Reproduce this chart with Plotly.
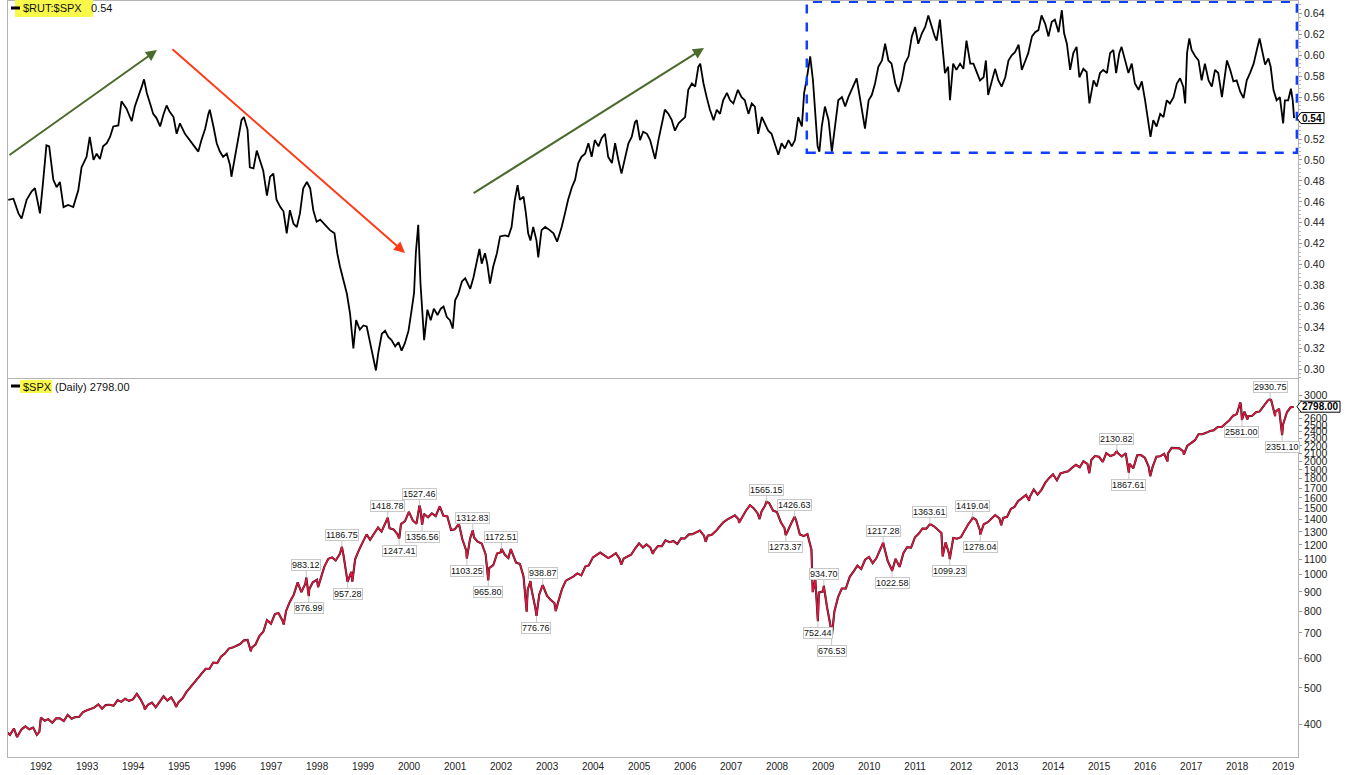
import math
import pandas as pd
import plotly.graph_objects as go

# ---------------- DATA ----------------
# $RUT:$SPX ratio (decimal year, ratio)
rut_spx_year = [
    1991.29, 1991.40, 1991.51, 1991.58, 1991.69, 1991.80, 1991.87, 1991.98,
    1992.05, 1992.12, 1992.18, 1992.27, 1992.34, 1992.41, 1992.49, 1992.59, 1992.70, 1992.81, 1992.88, 1992.99,
    1993.06, 1993.14, 1993.21, 1993.28, 1993.35, 1993.43, 1993.50, 1993.57, 1993.68, 1993.75, 1993.86, 1993.97,
    1994.04, 1994.12, 1994.19, 1994.24, 1994.30, 1994.37, 1994.44, 1994.51, 1994.59, 1994.66, 1994.73, 1994.80, 1994.88, 1994.95,
    1995.02, 1995.13, 1995.24, 1995.35, 1995.42, 1995.49, 1995.57, 1995.64, 1995.67, 1995.75, 1995.82, 1995.89, 1995.96,
    1996.04, 1996.11, 1996.14, 1996.22, 1996.29, 1996.36, 1996.41, 1996.49, 1996.54, 1996.62, 1996.69, 1996.76, 1996.83, 1996.91, 1996.98,
    1997.05, 1997.12, 1997.20, 1997.27, 1997.34, 1997.41, 1997.49, 1997.56, 1997.63, 1997.70, 1997.78, 1997.85, 1997.92, 1997.99,
    1998.07, 1998.17, 1998.28, 1998.38, 1998.44, 1998.50, 1998.57, 1998.65, 1998.72, 1998.79, 1998.85, 1998.93,
    1999.01, 1999.08, 1999.17, 1999.22, 1999.28, 1999.33, 1999.41, 1999.48, 1999.55, 1999.62, 1999.70, 1999.77, 1999.84, 1999.91, 1999.99,
    2000.06, 2000.11, 2000.15, 2000.20, 2000.25, 2000.30, 2000.33, 2000.40, 2000.47, 2000.54, 2000.62, 2000.69, 2000.75, 2000.82, 2000.89, 2000.95,
    2001.00, 2001.07, 2001.15, 2001.22, 2001.33, 2001.40, 2001.47, 2001.53, 2001.58, 2001.65, 2001.70, 2001.76, 2001.83, 2001.91, 2001.98,
    2002.09, 2002.16, 2002.23, 2002.30, 2002.36, 2002.41, 2002.49, 2002.54, 2002.59, 2002.64, 2002.70, 2002.77, 2002.81, 2002.88, 2002.96,
    2003.06, 2003.14, 2003.22, 2003.32, 2003.39, 2003.46, 2003.54, 2003.61, 2003.68, 2003.75, 2003.83, 2003.90, 2003.97,
    2004.04, 2004.12, 2004.19, 2004.26, 2004.33, 2004.41, 2004.48, 2004.55, 2004.62, 2004.70, 2004.77, 2004.84, 2004.91, 2004.95,
    2005.02, 2005.09, 2005.17, 2005.24, 2005.31, 2005.35, 2005.42, 2005.49, 2005.56, 2005.64, 2005.71, 2005.78, 2005.86, 2005.93,
    2006.00, 2006.07, 2006.15, 2006.22, 2006.29, 2006.33, 2006.40, 2006.47, 2006.54, 2006.62, 2006.69, 2006.76, 2006.83, 2006.91, 2006.98,
    2007.05, 2007.15, 2007.23, 2007.30, 2007.38, 2007.45, 2007.52, 2007.59, 2007.67, 2007.74, 2007.81, 2007.88, 2007.96,
    2008.03, 2008.10, 2008.17, 2008.25, 2008.32, 2008.39, 2008.46, 2008.54, 2008.59, 2008.64, 2008.72, 2008.78, 2008.83, 2008.88, 2008.92, 2008.97,
    2009.04, 2009.12, 2009.19, 2009.26, 2009.33, 2009.41, 2009.48, 2009.55, 2009.62, 2009.73, 2009.80, 2009.88, 2009.91, 2009.99,
    2010.06, 2010.13, 2010.20, 2010.28, 2010.35, 2010.42, 2010.49, 2010.57, 2010.64, 2010.71, 2010.78, 2010.86, 2010.93,
    2011.00, 2011.07, 2011.15, 2011.22, 2011.29, 2011.36, 2011.43, 2011.47, 2011.54, 2011.61, 2011.65, 2011.72, 2011.76, 2011.83, 2011.90, 2011.98,
    2012.05, 2012.12, 2012.20, 2012.27, 2012.34, 2012.41, 2012.49, 2012.54, 2012.59, 2012.67, 2012.74, 2012.81, 2012.88, 2012.96,
    2013.03, 2013.10, 2013.17, 2013.25, 2013.32, 2013.39, 2013.46, 2013.54, 2013.61, 2013.68, 2013.75, 2013.83, 2013.90, 2013.97,
    2014.04, 2014.12, 2014.19, 2014.24, 2014.30, 2014.37, 2014.44, 2014.51, 2014.57, 2014.66, 2014.73, 2014.79, 2014.88, 2014.95,
    2015.02, 2015.09, 2015.17, 2015.24, 2015.31, 2015.37, 2015.44, 2015.49, 2015.57, 2015.64, 2015.71, 2015.78, 2015.86, 2015.93,
    2016.00, 2016.07, 2016.12, 2016.18, 2016.25, 2016.33, 2016.40, 2016.47, 2016.54, 2016.62, 2016.69, 2016.76, 2016.83, 2016.87, 2016.91, 2016.96,
    2017.01, 2017.09, 2017.16, 2017.23, 2017.30, 2017.38, 2017.45, 2017.52, 2017.59, 2017.67, 2017.78, 2017.85, 2017.92, 2017.99,
    2018.07, 2018.14, 2018.21, 2018.28, 2018.36, 2018.43, 2018.49, 2018.54, 2018.61, 2018.68, 2018.73, 2018.79, 2018.86, 2018.93,
    2019.00, 2019.04, 2019.11, 2019.17, 2019.21, 2019.24,
]
rut_spx = [
    0.462, 0.463, 0.449, 0.444, 0.462, 0.470, 0.473, 0.449,
    0.481, 0.514, 0.513, 0.481, 0.474, 0.479, 0.455, 0.457, 0.455, 0.471, 0.493, 0.503,
    0.522, 0.500, 0.506, 0.501, 0.513, 0.516, 0.522, 0.532, 0.533, 0.556, 0.549, 0.537,
    0.551, 0.560, 0.570, 0.577, 0.564, 0.554, 0.544, 0.540, 0.532, 0.543, 0.552, 0.546, 0.541, 0.525,
    0.535, 0.525, 0.519, 0.513, 0.508, 0.519, 0.530, 0.544, 0.548, 0.532, 0.516, 0.508, 0.503,
    0.506, 0.495, 0.484, 0.503, 0.519, 0.538, 0.541, 0.529, 0.493, 0.492, 0.509, 0.500, 0.490, 0.466, 0.484,
    0.487, 0.462, 0.455, 0.451, 0.430, 0.452, 0.439, 0.436, 0.449, 0.473, 0.479, 0.473, 0.452, 0.441,
    0.443, 0.438, 0.433, 0.430, 0.411, 0.398, 0.385, 0.372, 0.353, 0.320, 0.347, 0.338,
    0.342, 0.341, 0.322, 0.312, 0.299, 0.315, 0.334, 0.337, 0.331, 0.328, 0.322, 0.326, 0.318, 0.325, 0.337,
    0.357, 0.373, 0.411, 0.438, 0.382, 0.341, 0.328, 0.357, 0.347, 0.358, 0.352, 0.358, 0.360, 0.350, 0.347, 0.339,
    0.366, 0.372, 0.384, 0.387, 0.377, 0.388, 0.401, 0.415, 0.401, 0.411, 0.401, 0.382, 0.398, 0.411, 0.427,
    0.428, 0.427, 0.436, 0.462, 0.476, 0.462, 0.465, 0.449, 0.430, 0.423, 0.436, 0.423, 0.407, 0.433, 0.436,
    0.433, 0.430, 0.422, 0.436, 0.449, 0.462, 0.474, 0.481, 0.497, 0.503, 0.506, 0.516, 0.503,
    0.519, 0.513, 0.521, 0.525, 0.503, 0.497, 0.516, 0.500, 0.487, 0.503, 0.516, 0.522, 0.536, 0.538,
    0.519, 0.527, 0.525, 0.519, 0.506, 0.501, 0.519, 0.532, 0.548, 0.544, 0.538, 0.528, 0.535, 0.538,
    0.541, 0.567, 0.573, 0.570, 0.589, 0.592, 0.573, 0.560, 0.548, 0.538, 0.548, 0.544, 0.557, 0.564, 0.557,
    0.554, 0.567, 0.560, 0.557, 0.544, 0.554, 0.551, 0.525, 0.541, 0.535, 0.528, 0.525, 0.513,
    0.505, 0.516, 0.511, 0.519, 0.513, 0.519, 0.541, 0.532, 0.564, 0.576, 0.599, 0.576, 0.548, 0.513, 0.508, 0.532,
    0.551, 0.538, 0.508, 0.532, 0.557, 0.560, 0.551, 0.560, 0.567, 0.578, 0.560, 0.538, 0.530, 0.557,
    0.562, 0.573, 0.589, 0.595, 0.611, 0.595, 0.592, 0.573, 0.565, 0.576, 0.592, 0.599, 0.618,
    0.627, 0.611, 0.621, 0.627, 0.638, 0.627, 0.618, 0.614, 0.634, 0.602, 0.583, 0.589, 0.557, 0.592, 0.586, 0.592,
    0.587, 0.614, 0.592, 0.592, 0.583, 0.576, 0.579, 0.595, 0.562, 0.576, 0.587, 0.576, 0.570, 0.579,
    0.595, 0.600, 0.603, 0.610, 0.586, 0.594, 0.602, 0.618, 0.622, 0.624, 0.638, 0.630, 0.618, 0.632,
    0.634, 0.622, 0.643, 0.621, 0.611, 0.586, 0.602, 0.608, 0.579, 0.587, 0.584, 0.554, 0.576, 0.570,
    0.583, 0.586, 0.583, 0.602, 0.605, 0.583, 0.602, 0.608, 0.595, 0.583, 0.592, 0.573, 0.567, 0.575,
    0.557, 0.538, 0.522, 0.538, 0.532, 0.544, 0.541, 0.557, 0.554, 0.560, 0.573, 0.578, 0.570, 0.554, 0.602, 0.616,
    0.605, 0.599, 0.595, 0.576, 0.592, 0.576, 0.570, 0.586, 0.583, 0.560, 0.595, 0.586, 0.575, 0.576,
    0.565, 0.559, 0.576, 0.583, 0.592, 0.605, 0.616, 0.605, 0.591, 0.597, 0.589, 0.567, 0.557, 0.560,
    0.535, 0.557, 0.557, 0.568, 0.557, 0.540,
]

# $SPX daily closes (selected dates)
spx_dates = [
    "1991-04-12", "1991-04-30", "1991-05-31", "1991-06-25", "1991-07-31", "1991-08-30", "1991-09-30", "1991-10-31", "1991-11-29", "1991-12-19", "1991-12-31",
    "1992-01-31", "1992-02-28", "1992-03-31", "1992-04-30", "1992-05-29", "1992-06-30", "1992-07-31", "1992-08-31", "1992-09-30", "1992-10-30", "1992-11-30", "1992-12-31",
    "1993-01-29", "1993-02-26", "1993-03-31", "1993-04-30", "1993-05-28", "1993-06-30", "1993-07-30", "1993-08-31", "1993-09-30", "1993-10-29", "1993-11-30", "1993-12-31",
    "1994-01-31", "1994-02-28", "1994-03-31", "1994-04-04", "1994-04-29", "1994-05-31", "1994-06-30", "1994-07-29", "1994-08-31", "1994-09-30", "1994-10-31", "1994-11-30", "1994-12-08", "1994-12-30",
    "1995-01-31", "1995-02-28", "1995-03-31", "1995-04-28", "1995-05-31", "1995-06-30", "1995-07-31", "1995-08-31", "1995-09-29", "1995-10-31", "1995-11-30", "1995-12-29",
    "1996-01-31", "1996-02-29", "1996-03-29", "1996-04-30", "1996-05-31", "1996-06-28", "1996-07-24", "1996-07-31", "1996-08-30", "1996-09-30", "1996-10-31", "1996-11-29", "1996-12-31",
    "1997-01-31", "1997-02-28", "1997-03-31", "1997-04-11", "1997-04-30", "1997-05-30", "1997-06-30", "1997-07-31", "1997-08-29", "1997-09-30", "1997-10-07", "1997-10-27", "1997-10-31", "1997-11-28", "1997-12-31",
    "1998-01-09", "1998-01-30", "1998-02-27", "1998-03-31", "1998-04-30", "1998-05-29", "1998-06-30", "1998-07-17", "1998-07-31", "1998-08-31", "1998-09-30", "1998-10-08", "1998-10-30", "1998-11-30", "1998-12-31",
    "1999-01-29", "1999-02-26", "1999-03-31", "1999-04-30", "1999-05-28", "1999-06-30", "1999-07-16", "1999-07-30", "1999-08-31", "1999-09-30", "1999-10-15", "1999-10-29", "1999-11-30", "1999-12-31",
    "2000-01-31", "2000-02-29", "2000-03-24", "2000-03-31", "2000-04-14", "2000-04-28", "2000-05-31", "2000-06-30", "2000-07-31", "2000-08-31", "2000-09-01", "2000-09-29", "2000-10-31", "2000-11-30", "2000-12-29",
    "2001-01-31", "2001-02-28", "2001-03-30", "2001-04-04", "2001-04-30", "2001-05-21", "2001-05-31", "2001-06-29", "2001-07-31", "2001-08-31", "2001-09-21", "2001-09-28", "2001-10-31", "2001-11-30", "2001-12-31",
    "2002-01-04", "2002-01-31", "2002-02-28", "2002-03-19", "2002-03-28", "2002-04-30", "2002-05-31", "2002-06-28", "2002-07-23", "2002-07-31", "2002-08-22", "2002-08-30", "2002-09-30", "2002-10-09", "2002-10-31", "2002-11-27", "2002-11-29", "2002-12-31",
    "2003-01-31", "2003-02-28", "2003-03-11", "2003-03-31", "2003-04-30", "2003-05-30", "2003-06-30", "2003-07-31", "2003-08-29", "2003-09-30", "2003-10-31", "2003-11-28", "2003-12-31",
    "2004-01-30", "2004-02-27", "2004-03-31", "2004-04-30", "2004-05-28", "2004-06-30", "2004-07-30", "2004-08-12", "2004-08-31", "2004-09-30", "2004-10-29", "2004-11-30", "2004-12-31",
    "2005-01-31", "2005-02-28", "2005-03-31", "2005-04-20", "2005-04-29", "2005-05-31", "2005-06-30", "2005-07-29", "2005-08-31", "2005-09-30", "2005-10-31", "2005-11-30", "2005-12-30",
    "2006-01-31", "2006-02-28", "2006-03-31", "2006-04-28", "2006-05-31", "2006-06-13", "2006-06-30", "2006-07-31", "2006-08-31", "2006-09-29", "2006-10-31", "2006-11-30", "2006-12-29",
    "2007-01-31", "2007-02-28", "2007-03-05", "2007-03-30", "2007-04-30", "2007-05-31", "2007-06-29", "2007-07-31", "2007-08-15", "2007-08-31", "2007-09-28", "2007-10-09", "2007-10-31", "2007-11-30", "2007-12-31",
    "2008-01-31", "2008-02-29", "2008-03-10", "2008-03-31", "2008-04-30", "2008-05-19", "2008-05-30", "2008-06-30", "2008-07-31", "2008-08-29", "2008-09-30", "2008-10-10", "2008-10-31", "2008-11-20", "2008-11-28", "2008-12-31",
    "2009-01-06", "2009-01-30", "2009-02-27", "2009-03-09", "2009-03-31", "2009-04-30", "2009-05-29", "2009-06-30", "2009-07-31", "2009-08-31", "2009-09-30", "2009-10-30", "2009-11-30", "2009-12-31",
    "2010-01-29", "2010-02-26", "2010-03-31", "2010-04-23", "2010-04-30", "2010-05-28", "2010-06-30", "2010-07-02", "2010-07-30", "2010-08-31", "2010-09-30", "2010-10-29", "2010-11-30", "2010-12-31",
    "2011-01-31", "2011-02-28", "2011-03-31", "2011-04-29", "2011-05-31", "2011-06-30", "2011-07-29", "2011-08-08", "2011-08-31", "2011-09-30", "2011-10-03", "2011-10-31", "2011-11-30", "2011-12-30",
    "2012-01-31", "2012-02-29", "2012-03-30", "2012-04-02", "2012-04-30", "2012-05-31", "2012-06-01", "2012-06-29", "2012-07-31", "2012-08-31", "2012-09-28", "2012-10-31", "2012-11-15", "2012-11-30", "2012-12-31",
    "2013-01-31", "2013-02-28", "2013-03-28", "2013-04-30", "2013-05-31", "2013-06-24", "2013-06-28", "2013-07-31", "2013-08-30", "2013-09-30", "2013-10-31", "2013-11-29", "2013-12-31",
    "2014-01-31", "2014-02-28", "2014-03-31", "2014-04-30", "2014-05-30", "2014-06-30", "2014-07-31", "2014-08-29", "2014-09-30", "2014-10-15", "2014-10-31", "2014-11-28", "2014-12-31",
    "2015-01-30", "2015-02-27", "2015-03-31", "2015-04-30", "2015-05-21", "2015-05-29", "2015-06-30", "2015-07-31", "2015-08-25", "2015-08-31", "2015-09-30", "2015-10-30", "2015-11-30", "2015-12-31",
    "2016-01-29", "2016-02-11", "2016-02-29", "2016-03-31", "2016-04-29", "2016-05-31", "2016-06-27", "2016-06-30", "2016-07-29", "2016-08-31", "2016-09-30", "2016-10-31", "2016-11-04", "2016-11-30", "2016-12-30",
    "2017-01-31", "2017-02-28", "2017-03-31", "2017-04-28", "2017-05-31", "2017-06-30", "2017-07-31", "2017-08-31", "2017-09-29", "2017-10-31", "2017-11-30", "2017-12-29",
    "2018-01-26", "2018-01-31", "2018-02-08", "2018-02-28", "2018-03-23", "2018-03-29", "2018-04-30", "2018-05-31", "2018-06-29", "2018-07-31", "2018-08-31", "2018-09-20", "2018-09-28", "2018-10-29", "2018-10-31", "2018-11-30", "2018-12-24", "2018-12-31",
    "2019-01-31", "2019-02-28", "2019-03-25",
]
spx_close = [
    380, 375, 390, 370, 388, 395, 388, 392, 375, 382, 417,
    409, 413, 404, 415, 415, 408, 424, 414, 418, 419, 431, 436,
    439, 443, 452, 440, 450, 451, 448, 464, 459, 468, 462, 466,
    482, 467, 446, 438, 451, 457, 444, 458, 475, 463, 472, 454, 445, 459,
    470, 487, 501, 515, 533, 545, 562, 562, 584, 582, 605, 616,
    636, 640, 646, 654, 669, 671, 626, 640, 652, 687, 705, 757, 741,
    786, 791, 757, 737, 801, 848, 885, 954, 899, 947, 983.12, 876.99, 915, 955, 970,
    927, 980, 1049, 1102, 1112, 1091, 1134, 1186.75, 1121, 957.28, 1017, 959, 1099, 1164, 1229,
    1280, 1238, 1286, 1335, 1302, 1373, 1418.78, 1329, 1320, 1283, 1247.41, 1363, 1389, 1469,
    1394, 1366, 1527.46, 1499, 1356.56, 1452, 1421, 1455, 1431, 1518, 1520.77, 1437, 1429, 1315, 1320,
    1366, 1240, 1160, 1103.25, 1249, 1312.83, 1256, 1224, 1211, 1134, 965.80, 1041, 1060, 1139, 1148,
    1172.51, 1130, 1107, 1170, 1147, 1077, 1067, 990, 797.70, 912, 962, 916, 815, 776.76, 886, 938.87, 936, 880,
    856, 841, 800.73, 848, 917, 964, 975, 990, 1008, 996, 1051, 1058, 1112,
    1131, 1145, 1126, 1107, 1121, 1141, 1102, 1064, 1104, 1115, 1130, 1174, 1212,
    1181, 1204, 1181, 1137, 1157, 1192, 1191, 1234, 1220, 1229, 1207, 1249, 1248,
    1280, 1281, 1295, 1311, 1270, 1223, 1270, 1277, 1304, 1336, 1378, 1401, 1418,
    1438, 1407, 1374, 1421, 1482, 1531, 1503, 1455, 1406, 1474, 1527, 1565.15, 1549, 1481, 1468,
    1379, 1331, 1273.37, 1323, 1386, 1426.63, 1400, 1280, 1267, 1283, 1166, 899, 969, 752.44, 896, 903,
    934.70, 826, 735, 676.53, 798, 873, 919, 919, 987, 1021, 1057, 1036, 1096, 1115,
    1074, 1104, 1169, 1217.28, 1187, 1089, 1031, 1022.58, 1102, 1049, 1141, 1183, 1181, 1258,
    1286, 1327, 1326, 1363.61, 1345, 1321, 1292, 1119, 1219, 1131, 1099.23, 1253, 1247, 1258,
    1312, 1366, 1408, 1419.04, 1398, 1310, 1278.04, 1362, 1379, 1407, 1441, 1412, 1353, 1416, 1426,
    1498, 1515, 1569, 1598, 1631, 1573, 1606, 1686, 1633, 1682, 1757, 1806, 1848,
    1783, 1859, 1872, 1884, 1924, 1960, 1931, 2003, 1972, 1862, 2018, 2068, 2059,
    1995, 2105, 2068, 2086, 2130.82, 2107, 2063, 2104, 1867.61, 1972, 1920, 2079, 2080, 2044,
    1940, 1829, 1932, 2060, 2065, 2097, 2001, 2099, 2174, 2171, 2168, 2126, 2085, 2199, 2239,
    2279, 2364, 2363, 2384, 2412, 2423, 2470, 2472, 2519, 2575, 2648, 2674,
    2872.87, 2824, 2581.00, 2714, 2588, 2641, 2648, 2705, 2718, 2816, 2902, 2930.75, 2914, 2641, 2712, 2760, 2351.10, 2507,
    2704, 2784, 2798.00,
]

# annotated turning points (dates present in spx_dates)
spx_peak_labels = ["1997-10-07", "1998-07-17", "1999-07-16", "2000-03-24", "2001-05-21", "2002-01-04",
                   "2002-11-27", "2007-10-09", "2008-05-19", "2009-01-06", "2010-04-23", "2011-04-29",
                   "2012-04-02", "2015-05-21", "2018-09-20"]
spx_trough_labels = ["1997-10-27", "1998-08-31", "1999-10-15", "2000-04-14", "2001-04-04", "2001-09-21",
                     "2002-10-09", "2008-03-10", "2008-11-20", "2009-03-09", "2010-07-02", "2011-10-03",
                     "2012-06-01", "2015-08-25", "2018-02-08", "2018-12-24"]

ratio_ticks = [0.30, 0.32, 0.34, 0.36, 0.38, 0.40, 0.42, 0.44, 0.46, 0.48, 0.50,
               0.52, 0.54, 0.56, 0.58, 0.60, 0.62, 0.64]
spx_ticks = [400, 500, 600, 700, 800, 900, 1000, 1100, 1200, 1300, 1400, 1500, 1600, 1700,
             1800, 1900, 2000, 2100, 2200, 2300, 2400, 2500, 2600, 2700, 2800, 2900, 3000]
# tick labels hidden behind the last-value tags in the reference
ratio_hidden = [0.54]
spx_hidden = [2700, 2800, 2900]

# ---------------- HELPERS ----------------
def yr2date(t):
    y = int(math.floor(t))
    s = pd.Timestamp(year=y, month=1, day=1)
    e = pd.Timestamp(year=y + 1, month=1, day=1)
    return (s + (e - s) * (t - y)).strftime("%Y-%m-%d")

W, H = 1354, 775
L, R, T, B = 8, 1298, 1, 757


def xp(px):
    return (px - L) / (R - L)


def yp(py):
    return (B - py) / (B - T)


ratio_dates = [yr2date(t) for t in rut_spx_year]
x_range = [yr2date(1991.2826), yr2date(2019.326)]

FONT = "Liberation Sans, Arial, sans-serif"
FRAME = "#b4b4b4"
RED = "#dc163e"

fig = go.Figure()

fig.add_trace(go.Scatter(x=ratio_dates, y=rut_spx, mode="lines", xaxis="x", yaxis="y",
                         line=dict(color="black", width=1.8), hoverinfo="skip"))
fig.add_trace(go.Scatter(x=spx_dates, y=spx_close, mode="lines", xaxis="x2", yaxis="y2",
                         line=dict(color="#111111", width=2.1), hoverinfo="skip"))
fig.add_trace(go.Scatter(x=spx_dates, y=spx_close, mode="lines", xaxis="x2", yaxis="y2",
                         line=dict(color=RED, width=1.5), hoverinfo="skip"))

annotations = []
shapes = []

# --- SPX turning-point labels
lookup = dict(zip(spx_dates, spx_close))
for d in spx_peak_labels + spx_trough_labels:
    v = lookup[d]
    up = d in spx_peak_labels
    annotations.append(dict(
        x=d, y=math.log10(v), xref="x2", yref="y2", text=f"{v:.2f}",
        showarrow=True, arrowhead=0, arrowwidth=1, arrowcolor="#c8c8c8",
        ax=0, ay=-12 if up else 12, bgcolor="white", bordercolor="#c8c8c8",
        borderwidth=1, borderpad=0, font=dict(family=FONT, size=9, color="#111")))

# --- trend arrows (top panel)
arrows = [
    (1991.283, 0.5037, 1994.522, 0.6049, "#4a6b2c"),
    (1994.826, 0.6069, 1999.913, 0.4112, "#ff3a14"),
    (2001.370, 0.4674, 2006.413, 0.6069, "#4a6b2c"),
]
for x0, y0, x1, y1, c in arrows:
    annotations.append(dict(
        x=yr2date(x1), y=y1, ax=yr2date(x0), ay=y0, xref="x", yref="y", axref="x", ayref="y",
        text="", showarrow=True, arrowhead=2, arrowsize=1.1, arrowwidth=2, arrowcolor=c, standoff=0))

# --- blue dashed box
shapes.append(dict(type="rect", xref="x", yref="y", x0=yr2date(2008.646), x1=yr2date(2019.30),
                   y0=0.5069, y1=0.6511, line=dict(color="#1040ff", width=2.5, dash="dash"),
                   fillcolor="rgba(0,0,0,0)", layer="above"))

# --- legends
shapes += [
    dict(type="rect", xref="paper", yref="paper", x0=xp(15), x1=xp(93), y0=yp(17), y1=yp(0),
         fillcolor="#f9f94c", line=dict(width=0), layer="above"),
    dict(type="line", xref="paper", yref="paper", x0=xp(11), x1=xp(20), y0=yp(8), y1=yp(8),
         line=dict(color="black", width=3), layer="above"),
    dict(type="rect", xref="paper", yref="paper", x0=xp(20), x1=xp(52), y0=yp(393), y1=yp(380),
         fillcolor="#f9f94c", line=dict(width=0), layer="above"),
    dict(type="line", xref="paper", yref="paper", x0=xp(11), x1=xp(20), y0=yp(386), y1=yp(386),
         line=dict(color="black", width=3), layer="above"),
]
annotations += [
    dict(x=xp(22), y=yp(8.5), xref="paper", yref="paper", xanchor="left", yanchor="middle",
         text="$RUT:$SPX", showarrow=False, borderpad=0, font=dict(family=FONT, size=11, color="#111")),
    dict(x=xp(90), y=yp(8.5), xref="paper", yref="paper", xanchor="left", yanchor="middle",
         text=f"{rut_spx[-1]:.2f}", showarrow=False, borderpad=0, font=dict(family=FONT, size=11, color="#111")),
    dict(x=xp(22), y=yp(386.5), xref="paper", yref="paper", xanchor="left", yanchor="middle",
         text="$SPX", showarrow=False, borderpad=0, font=dict(family=FONT, size=11, color="#111")),
    dict(x=xp(54), y=yp(386.5), xref="paper", yref="paper", xanchor="left", yanchor="middle",
         text=f"(Daily) {spx_close[-1]:.2f}", showarrow=False, borderpad=0,
         font=dict(family=FONT, size=11, color="#111")),
]

# --- last value tags
shapes += [
    dict(type="path", xref="paper", yref="y", xsizemode="pixel", ysizemode="pixel",
         xanchor=1, yanchor=rut_spx[-1], path="M -1,0 L 3,5.5 L 26,5.5 L 26,-5.5 L 3,-5.5 Z",
         fillcolor="white", line=dict(color="black", width=1), layer="above"),
    dict(type="path", xref="paper", yref="y2", xsizemode="pixel", ysizemode="pixel",
         xanchor=1, yanchor=spx_close[-1], path="M -1,0 L 3,5.5 L 42,5.5 L 42,-5.5 L 3,-5.5 Z",
         fillcolor="white", line=dict(color="black", width=1), layer="above"),
]
annotations += [
    dict(x=1, y=rut_spx[-1], xref="paper", yref="y", xanchor="left", yanchor="middle", xshift=3,
         text=f"<b>{rut_spx[-1]:.2f}</b>", showarrow=False, borderpad=0,
         font=dict(family=FONT, size=10, color="black")),
    dict(x=1, y=math.log10(spx_close[-1]), xref="paper", yref="y2", xanchor="left", yanchor="middle",
         xshift=3, text=f"<b>{spx_close[-1]:.2f}</b>", showarrow=False, borderpad=0,
         font=dict(family=FONT, size=10, color="black")),
]

axis_common = dict(showline=True, linecolor=FRAME, linewidth=1, mirror=True, showgrid=False,
                   zeroline=False)

fig.update_layout(
    width=W, height=H, margin=dict(l=L, r=W - R, t=T, b=H - B),
    paper_bgcolor="white", plot_bgcolor="white", showlegend=False,
    xaxis=dict(domain=[0, 1], anchor="y", type="date", range=x_range, showticklabels=False,
               ticks="", **axis_common),
    yaxis=dict(domain=[yp(378), 1], anchor="x", side="right", range=[0.2918, 0.6518],
               tickmode="array", tickvals=ratio_ticks,
               ticktext=["" if v in ratio_hidden else f"{v:.2f}" for v in ratio_ticks],
               ticks="outside", ticklen=3, tickcolor="#999",
               minor=dict(ticks="outside", ticklen=2, dtick=0.004, tickcolor="#bbb"),
               tickfont=dict(family=FONT, size=10.5, color="#222"), **axis_common),
    xaxis2=dict(domain=[0, 1], anchor="y2", type="date", range=x_range, tickformat="%Y",
                dtick="M12", tick0="1992-01-01", ticks="", ticklabelmode="instant",
                tickfont=dict(family=FONT, size=10, color="#222"), **axis_common),
    yaxis2=dict(domain=[0, yp(379)], anchor="x2", side="right", type="log",
                range=[2.5152, 3.5205], tickmode="array", tickvals=spx_ticks,
                ticktext=["" if v in spx_hidden else str(v) for v in spx_ticks],
                ticks="outside", ticklen=3, tickcolor="#999",
                tickfont=dict(family=FONT, size=10.5, color="#222"), **axis_common),
    annotations=annotations,
    shapes=shapes,
)

fig.write_html("out.html")
